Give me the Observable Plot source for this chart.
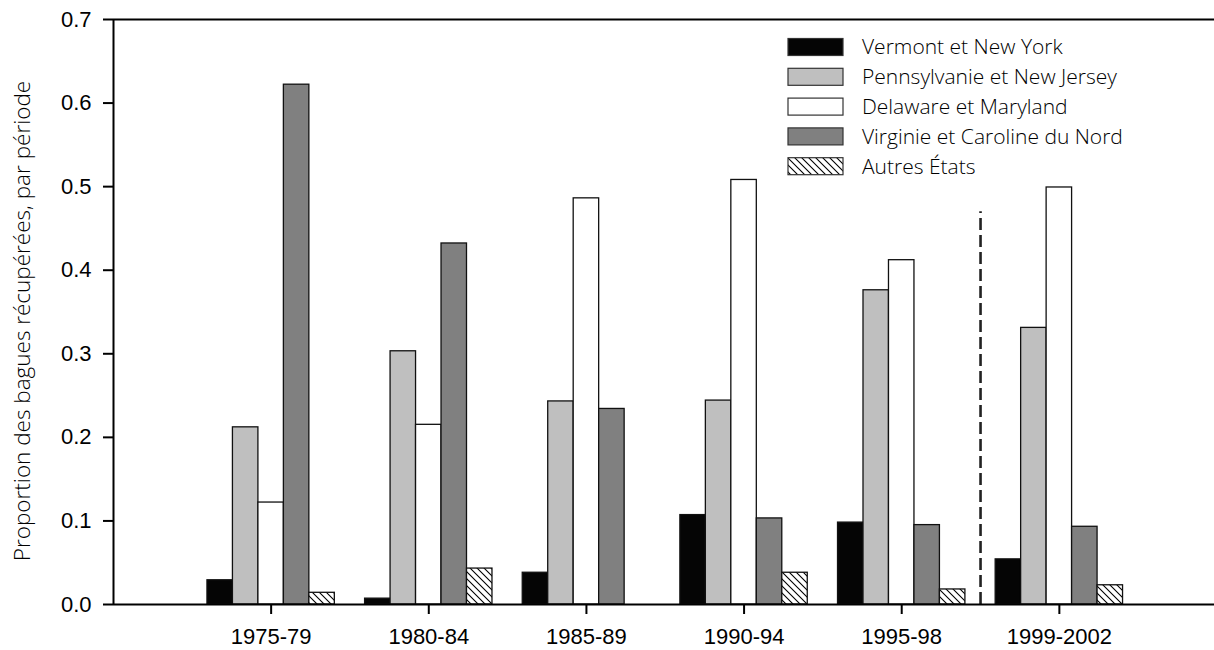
<!DOCTYPE html>
<html><head><meta charset="utf-8">
<script src="https://cdn.jsdelivr.net/npm/d3@7"></script>
<script src="https://cdn.jsdelivr.net/npm/@observablehq/plot@0.6"></script>
<style>
html,body{margin:0;padding:0;background:#fff;overflow:hidden;}
#wrap{position:relative;width:1214px;height:650px;overflow:hidden;}
#wrap svg{max-width:none !important;display:block;}
#legend{position:absolute;left:0;top:0;}
</style></head><body>
<svg width="0" height="0" style="position:absolute">
<defs><pattern id="hatch" patternUnits="userSpaceOnUse" width="7" height="7">
<rect width="7" height="7" fill="#fff"/>
<path d="M-1,-1 L8,8 M-1,6 L1,8 M6,-1 L8,1" stroke="#000" stroke-width="1.1"/>
</pattern></defs></svg>
<div id="wrap"></div>
<script>
// ---- data ----
const periods = ["1975-79", "1980-84", "1985-89", "1990-94", "1995-98", "1999-2002"];
const series = ["Vermont et New York", "Pennsylvanie et New Jersey", "Delaware et Maryland", "Virginie et Caroline du Nord", "Autres États"];
const vermont  = [0.029, 0.007, 0.038, 0.107, 0.098, 0.054];
const penn     = [0.212, 0.303, 0.243, 0.244, 0.376, 0.331];
const delaware = [0.122, 0.215, 0.486, 0.508, 0.412, 0.499];
const virginie = [0.622, 0.432, 0.234, 0.103, 0.095, 0.093];
const autres   = [0.014, 0.043, 0.000, 0.038, 0.018, 0.023];
const fills = ["#050505", "#bfbfbf", "#ffffff", "#808080", "url(#hatch)"];
const yTicks = [0, 0.1, 0.2, 0.3, 0.4, 0.5, 0.6, 0.7];
const yTitle = "Proportion des bagues récupérées, par période";
const dividerAt = 5.5;      // between 1995-98 and 1999-2002
const dividerTop = 0.47;

const values = [vermont, penn, delaware, virginie, autres];
const table = [];
periods.forEach((p, pi) => series.forEach((s, si) =>
  table.push({period: p, pos: pi + 1, series: s, si, value: values[si][pi]})));

const groupW = 0.808, barW = groupW / series.length;
const lightFont = "'Open Sans', 'Noto Sans', sans-serif";

const chart = Plot.plot({
  width: 1214, height: 650,
  marginLeft: 113, marginRight: 0, marginTop: 19, marginBottom: 46,
  style: {fontFamily: "'Liberation Sans', Arial, sans-serif", fontSize: "22px", color: "#000", background: "#fff", overflow: "visible", maxWidth: "none"},
  x: {domain: [0, 7], range: [113, 1216.5]},
  y: {domain: [0, 0.7]},
  color: {type: "ordinal", domain: series, range: fills},
  marks: [
    Plot.rect(table.filter(d => d.value > 0), {
      x1: d => d.pos - groupW / 2 + d.si * barW,
      x2: d => d.pos - groupW / 2 + (d.si + 1) * barW,
      y1: d => 0, y2: "value",
      fill: "series", stroke: "#111", strokeWidth: 1.3
    }),
    Plot.ruleX([dividerAt], {y1: 0, y2: dividerTop, stroke: "#222", strokeWidth: 2.6, strokeDasharray: "12,5"}),
    Plot.ruleY([0], {stroke: "#000", strokeWidth: 2}),
    Plot.ruleY([0.7], {stroke: "#000", strokeWidth: 2}),
    Plot.ruleX([0], {stroke: "#000", strokeWidth: 2}),
    Plot.axisY(yTicks, {tickFormat: d => d.toFixed(1), tickSize: 10, tickPadding: 12, strokeWidth: 2, fontSize: 22, label: null}),
    Plot.axisX(periods.map((p, i) => i + 1), {tickFormat: i => periods[i - 1], tickSize: 10, tickPadding: 14, strokeWidth: 2, fontSize: 22, label: null}),
    Plot.text([yTitle], {text: d => d, frameAnchor: "left", textAnchor: "middle", lineAnchor: "middle", rotate: -90, dx: -91, dy: 9, fontSize: 22.5, fontFamily: lightFont, fontWeight: 300})
  ]
});
document.getElementById("wrap").appendChild(chart);

// ---- legend (inside plot area, top right) ----
const lg = d3.select("#wrap").append("svg").attr("id", "legend")
  .attr("width", 1214).attr("height", 200);
const rowY0 = 47, rowStep = 29.8;
series.forEach((s, i) => {
  const cy = rowY0 + i * rowStep;
  lg.append("rect").attr("x", 788).attr("y", cy - 8.5).attr("width", 55).attr("height", 17)
    .attr("fill", fills[i]).attr("stroke", "#333").attr("stroke-width", 1.2);
  lg.append("text").attr("x", 862).attr("y", cy).attr("dy", "0.35em")
    .style("font-family", lightFont).style("font-weight", 300).style("font-size", "21px")
    .text(s);
});
</script>
</body></html>
